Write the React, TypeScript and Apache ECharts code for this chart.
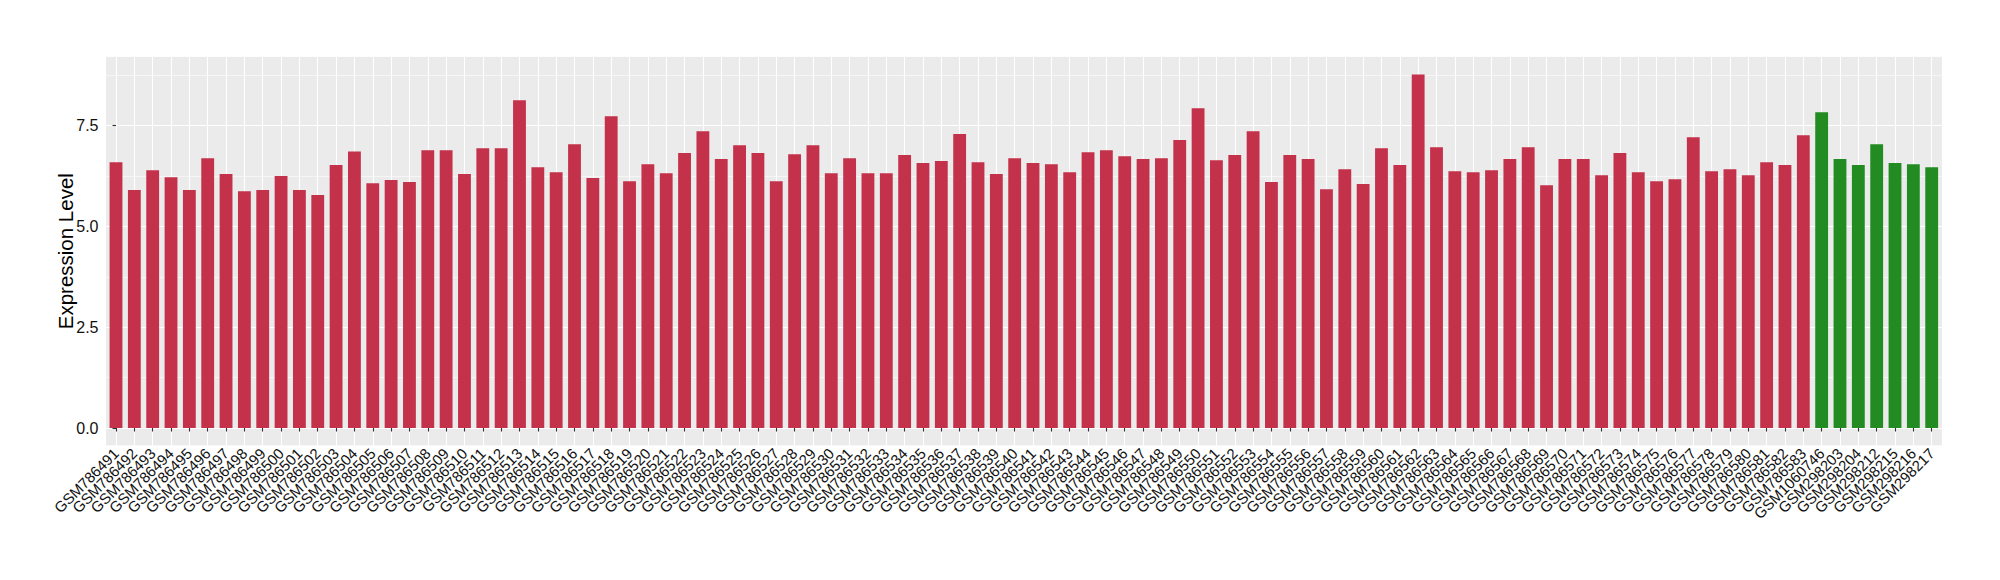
import React, { useEffect, useRef } from "react";
import * as echarts from "echarts";

const samples = [
  "GSM786491", "GSM786492", "GSM786493", "GSM786494", "GSM786495", "GSM786496", "GSM786497", "GSM786498", "GSM786499", "GSM786500",
  "GSM786501", "GSM786502", "GSM786503", "GSM786504", "GSM786505", "GSM786506", "GSM786507", "GSM786508", "GSM786509", "GSM786510",
  "GSM786511", "GSM786512", "GSM786513", "GSM786514", "GSM786515", "GSM786516", "GSM786517", "GSM786518", "GSM786519", "GSM786520",
  "GSM786521", "GSM786522", "GSM786523", "GSM786524", "GSM786525", "GSM786526", "GSM786527", "GSM786528", "GSM786529", "GSM786530",
  "GSM786531", "GSM786532", "GSM786533", "GSM786534", "GSM786535", "GSM786536", "GSM786537", "GSM786538", "GSM786539", "GSM786540",
  "GSM786541", "GSM786542", "GSM786543", "GSM786544", "GSM786545", "GSM786546", "GSM786547", "GSM786548", "GSM786549", "GSM786550",
  "GSM786551", "GSM786552", "GSM786553", "GSM786554", "GSM786555", "GSM786556", "GSM786557", "GSM786558", "GSM786559", "GSM786560",
  "GSM786561", "GSM786562", "GSM786563", "GSM786564", "GSM786565", "GSM786566", "GSM786567", "GSM786568", "GSM786569", "GSM786570",
  "GSM786571", "GSM786572", "GSM786573", "GSM786574", "GSM786575", "GSM786576", "GSM786577", "GSM786578", "GSM786579", "GSM786580",
  "GSM786581", "GSM786582", "GSM786583",
  "GSM1060746", "GSM298203", "GSM298204", "GSM298212", "GSM298215", "GSM298216", "GSM298217",
];

const greenSamples = ["GSM1060746", "GSM298203", "GSM298204", "GSM298212", "GSM298215", "GSM298216", "GSM298217"];

const values = [
  6.59, 5.90, 6.39, 6.22, 5.90, 6.69, 6.30, 5.87, 5.90, 6.25,
  5.90, 5.78, 6.52, 6.86, 6.07, 6.15, 6.10, 6.89, 6.89, 6.30,
  6.94, 6.94, 8.13, 6.47, 6.34, 7.04, 6.20, 7.73, 6.12, 6.54,
  6.32, 6.82, 7.36,
  6.67, 7.01, 6.82, 6.12, 6.79, 7.01, 6.32, 6.69, 6.32, 6.32,
  6.77, 6.57, 6.62, 7.29, 6.59, 6.30, 6.69, 6.57, 6.54, 6.34,
  6.84, 6.89, 6.74, 6.67, 6.69, 7.14, 7.93, 6.64, 6.77, 7.36,
  6.10, 6.77, 6.67, 5.92, 6.42,
  6.05, 6.94, 6.52, 8.77, 6.96, 6.37, 6.34, 6.39, 6.67, 6.96,
  6.02, 6.67, 6.67, 6.27, 6.82, 6.34, 6.12, 6.17, 7.21, 6.37,
  6.42, 6.27, 6.59, 6.52, 7.26,
  7.83, 6.67, 6.52, 7.04, 6.57, 6.54, 6.47,
];

const yTicks = [0, 2.5, 5, 7.5];

const RED = "#C4314B";
const GREEN = "#228B22";
const FONT = "Liberation Sans, Arial, Helvetica, sans-serif";

// panel geometry (ggplot-like: discrete axis expanded by 0.6 category on each side)
const PANEL_LEFT = 105;
const PANEL_TOP = 56.7;
const PANEL_W = 1837.7;
const PANEL_H = 389;

export default function App() {
  const ref = useRef<HTMLDivElement>(null);

  useEffect(() => {
    document.body.style.margin = "0";
    if (!ref.current) return;
    const chart = echarts.init(ref.current, undefined, { renderer: "svg" });
    const n = samples.length;
    const vMax = Math.max(...values);
    const yMax = vMax * 1.05;
    const yMin = -vMax * 0.05;
    const unit = PANEL_W / (n - 1 + 1.2);
    const inset = unit * 0.1;

    const option: any = {
      animation: false,
      backgroundColor: "#ffffff",
      textStyle: { fontFamily: FONT },
      grid: [
        {
          left: PANEL_LEFT,
          top: PANEL_TOP,
          width: PANEL_W,
          height: PANEL_H,
          show: true,
          backgroundColor: "#EBEBEB",
          borderWidth: 0,
          containLabel: false,
          outerBoundsMode: "none",
        },
        {
          left: PANEL_LEFT + inset,
          top: PANEL_TOP,
          width: PANEL_W - 2 * inset,
          height: PANEL_H,
          show: false,
          containLabel: false,
          outerBoundsMode: "none",
        },
      ],
      xAxis: [
        {
          type: "value",
          gridIndex: 0,
          min: -0.6,
          max: n - 1 + 0.6,
          minInterval: 1,
          maxInterval: 1,
          axisLine: { show: false },
          axisTick: { show: false },
          axisLabel: { show: false },
          splitLine: { show: true, lineStyle: { color: "#ffffff", width: 1.1 } },
        },
        {
          type: "category",
          gridIndex: 1,
          data: samples,
          boundaryGap: true,
          axisLine: { show: false },
          axisTick: {
            show: true,
            alignWithLabel: true,
            interval: 0,
            length: 3.5,
            lineStyle: { color: "#333333", width: 1.1 },
          },
          axisLabel: {
            interval: 0,
            rotate: 45,
            margin: 5,
            fontSize: 15,
            color: "#111111",
            fontFamily: FONT,
            hideOverlap: false,
          },
          splitLine: { show: false },
        },
      ],
      yAxis: [
        {
          type: "value",
          gridIndex: 0,
          min: yMin,
          max: yMax,
          minInterval: 2.5,
          maxInterval: 2.5,
          axisLine: { show: false },
          axisTick: {
            show: true,
            length: 3.5,
            lineStyle: { color: "#333333", width: 1.1 },
            customValues: yTicks,
          },
          axisLabel: {
            customValues: yTicks,
            margin: 6.5,
            fontSize: 16,
            color: "#111111",
            fontFamily: FONT,
            formatter: (v: number) => v.toFixed(1),
          },
          splitLine: { show: true, lineStyle: { color: "#ffffff", width: 1.1 } },
          name: "Expression Level",
          nameLocation: "middle",
          nameGap: 29,
          nameMoveOverlap: false,
          nameTextStyle: { fontSize: 20.5, color: "#000000", fontFamily: FONT },
        },
        {
          type: "value",
          gridIndex: 0,
          min: yMin,
          max: yMax,
          minInterval: 1.25,
          maxInterval: 1.25,
          position: "left",
          axisLine: { show: false },
          axisTick: { show: false },
          axisLabel: { show: false },
          splitLine: { show: true, lineStyle: { color: "#ffffff", width: 0.55 } },
        },
        {
          type: "value",
          gridIndex: 1,
          min: yMin,
          max: yMax,
          show: false,
          splitLine: { show: false },
        },
      ],
      series: [
        {
          type: "bar",
          xAxisIndex: 1,
          yAxisIndex: 2,
          barWidth: "70%",
          data: values.map((v, i) => ({
            value: v,
            itemStyle: { color: greenSamples.includes(samples[i]) ? GREEN : RED },
          })),
        },
      ],
    };
    chart.setOption(option);
    return () => chart.dispose();
  }, []);

  return <div ref={ref} style={{ width: 2000, height: 580 }} />;
}
